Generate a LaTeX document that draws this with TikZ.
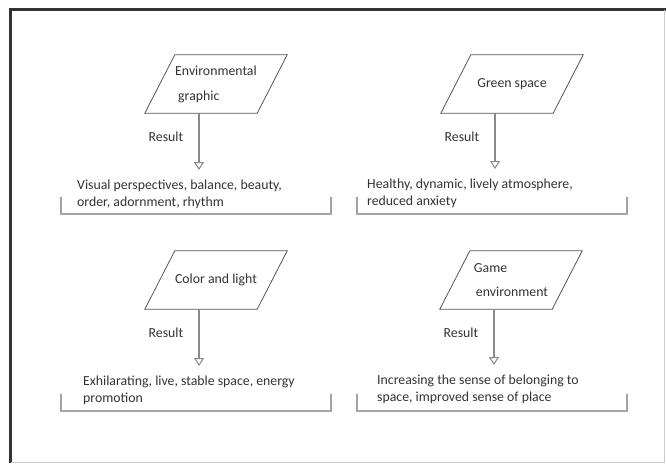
\documentclass[tikz,border=0pt]{standalone}
\usepackage{fontspec}
\setmainfont{Carlito}
\usetikzlibrary{arrows.meta,calc}
\definecolor{txtgray}{HTML}{333333}
\definecolor{edgegray}{HTML}{555555}
\definecolor{arrgray}{HTML}{8A8A8A}
\definecolor{brkgray}{HTML}{A3A3A3}
\tikzset{
  para/.style={minimum width=112pt, minimum height=58pt, inner sep=0pt,
    align=left, text=txtgray, font=\fontsize{13.8}{15}\selectfont},
  paraline/.style={draw=edgegray, line width=0.8pt},
  res/.style={draw=arrgray, line width=1.5pt, shorten >=10pt,
    -{Triangle[open, width=10pt, length=8pt, line width=1pt]}},
  lbl/.style={text=txtgray, inner sep=0pt, font=\fontsize{13.8}{15}\selectfont},
  outtext/.style={anchor=north west, align=left, inner sep=0pt, text=txtgray,
    font=\fontsize{13.8}{17}\selectfont},
  bracket/.style={draw=brkgray, line width=2pt}
}
\begin{document}
\begin{tikzpicture}[x=1pt,y=-1pt]
\useasboundingbox (0,0) rectangle (666,463);
\fill[white] (0,0) rectangle (666,463);
% frame
\draw[black!80, line width=3pt] (10,463) -- (10,9) -- (666,9);
\draw[black!20, line width=1pt] (11,462) -- (664,462) -- (664,10);

% inputs
\node[para] (p1) at (216,84) {Environmental\\[10pt]\hspace{3pt}graphic};
\node[para] (p2) at (512,84) {Green space};
\node[para] (p3) at (216,280) {Color and light};
\node[para] (p4) at (511,280) {Game\\[9pt]\hspace{2pt}environment};
\foreach \i in {1,...,4}
  \draw[paraline] ([xshift=-15pt]p\i.south west) -- ([xshift=-15pt]p\i.south east)
    -- ([xshift=15pt]p\i.north east) -- ([xshift=15pt]p\i.north west) -- cycle;

% results
\node[outtext] (t1) at (77,180) {Visual perspectives, balance, beauty,\\order, adornment, rhythm};
\node[outtext] (t2) at (367,179) {Healthy, dynamic, lively atmosphere,\\reduced anxiety};
\node[outtext] (t3) at (83,376) {Exhilarating, live, stable space, energy\\promotion};
\node[outtext] (t4) at (377,375) {Increasing the sense of belonging to\\space, improved sense of place};

\foreach \i in {1,...,4}{
  \coordinate (a\i) at ([xshift=-17pt]p\i.south);
  \draw[res] (a\i) -- (a\i |- t\i.north) node[pos=0.36, left=15pt, lbl] {Result};
}

% brackets
\foreach \x/\y in {61/214, 357/214, 61/411, 357/411}
  \draw[bracket] (\x,\y-17) |- (\x+270,\y) -- (\x+270,\y-17);
\end{tikzpicture}
\end{document}
